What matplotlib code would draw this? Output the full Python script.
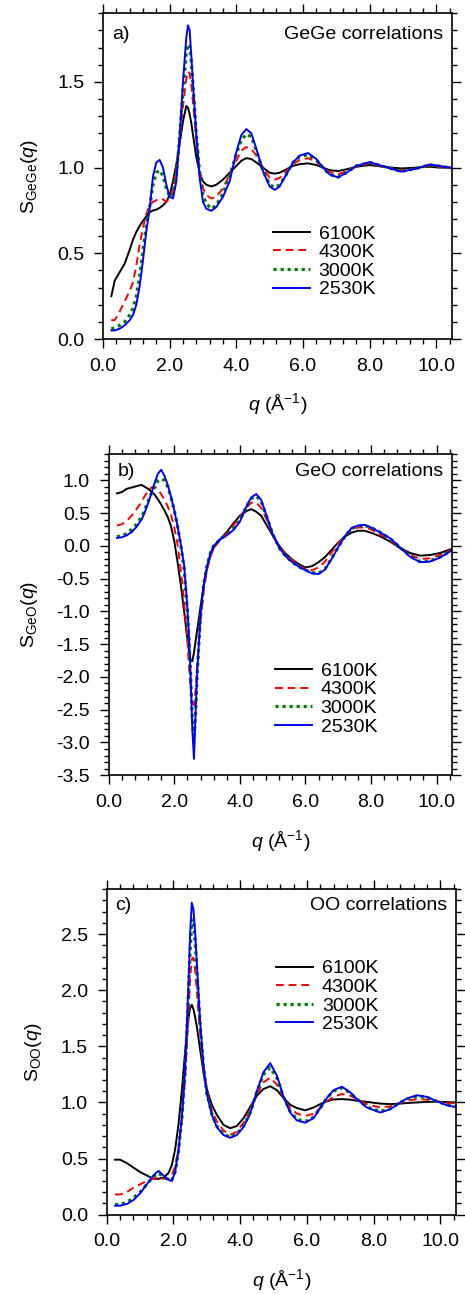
import matplotlib
matplotlib.use('Agg')
import matplotlib.pyplot as plt
from matplotlib.ticker import MultipleLocator, FormatStrFormatter

plt.rcParams['font.family'] = ['Liberation Sans', 'DejaVu Sans']
plt.rcParams['mathtext.fontset'] = 'custom'
plt.rcParams['mathtext.rm'] = 'Liberation Sans'
plt.rcParams['mathtext.it'] = 'Liberation Sans:italic'
plt.rcParams['axes.unicode_minus'] = False

temps = ['6100K', '4300K', '3000K', '2530K']

# panel a) GeGe
q_a = [0.25, 0.35, 0.5, 0.65, 0.8, 0.9, 1.0, 1.1, 1.2, 1.3, 1.4, 1.5, 1.6, 1.7, 1.8, 1.9,
       2.0, 2.1, 2.2, 2.3, 2.4, 2.5, 2.55, 2.6, 2.65, 2.7, 2.8, 2.9, 3.0, 3.1, 3.25, 3.4,
       3.6, 3.8, 4.0, 4.15, 4.3, 4.45, 4.6, 4.8, 5.0, 5.15, 5.3, 5.5, 5.7, 5.9, 6.15, 6.4,
       6.6, 6.8, 7.05, 7.3, 7.6, 8.0, 8.4, 8.95, 9.4, 9.8, 10.1, 10.45]
gege_6100 = [0.25, 0.34, 0.39, 0.44, 0.52, 0.58, 0.625, 0.66, 0.69, 0.715, 0.74, 0.75, 0.755, 0.765, 0.78, 0.80,
             0.84, 0.92, 1.02, 1.14, 1.27, 1.36, 1.35, 1.31, 1.26, 1.19, 1.06, 0.97, 0.92, 0.90, 0.89, 0.90,
             0.93, 0.97, 1.01, 1.04, 1.055, 1.05, 1.03, 1.0, 0.97, 0.965, 0.97, 0.99, 1.01, 1.02, 1.025, 1.015,
             1.0, 0.985, 0.98, 0.99, 1.005, 1.015, 1.005, 0.995, 1.0, 1.005, 1.0, 1.0]
gege_4300 = [0.11, 0.11, 0.16, 0.22, 0.28, 0.33, 0.43, 0.55, 0.65, 0.73, 0.78, 0.80, 0.81, 0.82, 0.815, 0.80,
             0.82, 0.87, 0.99, 1.17, 1.36, 1.52, 1.56, 1.55, 1.48, 1.38, 1.16, 0.98, 0.88, 0.84, 0.82, 0.83,
             0.88, 0.96, 1.04, 1.10, 1.12, 1.11, 1.07, 1.0, 0.94, 0.93, 0.94, 0.98, 1.02, 1.045, 1.055, 1.035,
             1.0, 0.975, 0.96, 0.98, 1.005, 1.025, 1.005, 0.985, 0.995, 1.012, 1.005, 0.998]
gege_3000 = [0.06, 0.065, 0.08, 0.10, 0.14, 0.18, 0.25, 0.37, 0.52, 0.66, 0.77, 0.90, 0.97, 0.985, 0.95, 0.88,
             0.83, 0.84, 0.96, 1.18, 1.45, 1.67, 1.72, 1.71, 1.62, 1.48, 1.19, 0.97, 0.84, 0.79, 0.76, 0.78,
             0.85, 0.95, 1.08, 1.16, 1.195, 1.18, 1.10, 0.98, 0.90, 0.885, 0.90, 0.96, 1.03, 1.065, 1.075, 1.045,
             1.0, 0.96, 0.945, 0.97, 1.01, 1.03, 1.008, 0.978, 0.995, 1.016, 1.008, 0.998]
gege_2530 = [0.05, 0.05, 0.06, 0.08, 0.11, 0.14, 0.20, 0.31, 0.46, 0.63, 0.76, 0.95, 1.03, 1.045, 1.0, 0.90,
             0.83, 0.82, 0.92, 1.18, 1.50, 1.76, 1.83, 1.80, 1.65, 1.49, 1.19, 0.94, 0.80, 0.76, 0.748, 0.77,
             0.83, 0.92, 1.09, 1.19, 1.225, 1.20, 1.11, 0.98, 0.89, 0.87, 0.89, 0.96, 1.03, 1.07, 1.085, 1.05,
             1.0, 0.96, 0.943, 0.97, 1.01, 1.032, 1.008, 0.976, 0.995, 1.018, 1.01, 0.998]

# panel b) GeO
q_b = [0.25, 0.4, 0.55, 0.7, 0.85, 1.0, 1.1, 1.2, 1.3, 1.4, 1.5, 1.6, 1.7, 1.8, 1.9, 2.0,
       2.1, 2.2, 2.3, 2.4, 2.45, 2.5, 2.55, 2.6, 2.65, 2.7, 2.8, 2.9, 3.0, 3.1, 3.2, 3.4,
       3.6, 3.8, 4.0, 4.2, 4.35, 4.5, 4.65, 4.8, 5.0, 5.2, 5.4, 5.6, 5.8, 6.0, 6.2, 6.4,
       6.6, 6.8, 7.0, 7.2, 7.4, 7.6, 7.8, 8.0, 8.3, 8.6, 8.9, 9.2, 9.5, 9.8, 10.1, 10.5]
geo_6100 = [0.80, 0.82, 0.87, 0.89, 0.91, 0.93, 0.90, 0.87, 0.83, 0.78, 0.71, 0.63, 0.54, 0.44, 0.30, 0.07,
            -0.25, -0.60, -1.00, -1.42, -1.62, -1.75, -1.76, -1.63, -1.45, -1.28, -0.93, -0.60, -0.34, -0.16, -0.03, 0.10,
            0.21, 0.34, 0.46, 0.53, 0.56, 0.52, 0.46, 0.33, 0.16, 0.0, -0.12, -0.21, -0.28, -0.33, -0.31, -0.25,
            -0.17, -0.06, 0.05, 0.14, 0.20, 0.23, 0.23, 0.20, 0.14, 0.06, -0.04, -0.11, -0.15, -0.14, -0.11, -0.04]
geo_4300 = [0.31, 0.33, 0.38, 0.46, 0.56, 0.67, 0.76, 0.84, 0.89, 0.90, 0.86, 0.79, 0.70, 0.60, 0.47, 0.28,
            0.02, -0.38, -0.85, -1.45, -1.85, -2.20, -2.40, -2.43, -2.20, -1.80, -1.15, -0.68, -0.36, -0.16, -0.03, 0.09,
            0.19, 0.31, 0.44, 0.58, 0.66, 0.66, 0.58, 0.42, 0.17, -0.01, -0.13, -0.22, -0.30, -0.35, -0.37, -0.33,
            -0.24, -0.10, 0.04, 0.15, 0.24, 0.28, 0.28, 0.25, 0.17, 0.08, -0.04, -0.14, -0.20, -0.19, -0.14, -0.05]
geo_3000 = [0.14, 0.15, 0.19, 0.25, 0.33, 0.44, 0.55, 0.68, 0.80, 0.91, 0.99, 1.02, 1.0, 0.90, 0.74, 0.54,
            0.30, 0.0, -0.35, -1.00, -1.45, -2.00, -2.65, -2.95, -2.55, -1.95, -1.05, -0.58, -0.30, -0.11, 0.0, 0.10,
            0.17, 0.26, 0.39, 0.60, 0.72, 0.76, 0.68, 0.47, 0.18, -0.03, -0.16, -0.25, -0.32, -0.37, -0.41, -0.42,
            -0.35, -0.19, -0.02, 0.14, 0.26, 0.30, 0.31, 0.28, 0.20, 0.10, -0.03, -0.16, -0.24, -0.23, -0.17, -0.06]
geo_2530 = [0.12, 0.13, 0.16, 0.21, 0.29, 0.40, 0.51, 0.65, 0.80, 0.96, 1.10, 1.16, 1.07, 0.93, 0.75, 0.54,
            0.30, 0.02, -0.30, -0.95, -1.40, -2.00, -2.80, -3.25, -2.55, -1.92, -1.05, -0.58, -0.31, -0.12, 0.0, 0.10,
            0.16, 0.24, 0.37, 0.60, 0.74, 0.79, 0.70, 0.48, 0.18, -0.03, -0.16, -0.25, -0.32, -0.37, -0.42, -0.43,
            -0.36, -0.20, -0.02, 0.14, 0.27, 0.31, 0.32, 0.28, 0.20, 0.11, -0.03, -0.17, -0.25, -0.24, -0.18, -0.06]

# panel c) OO
q_c = [0.25, 0.4, 0.6, 0.8, 1.0, 1.2, 1.4, 1.55, 1.7, 1.85, 1.95, 2.05, 2.15, 2.25, 2.35, 2.45,
       2.5, 2.55, 2.6, 2.65, 2.7, 2.8, 2.9, 3.0, 3.15, 3.3, 3.5, 3.7, 3.9, 4.1, 4.3, 4.5,
       4.7, 4.9, 5.1, 5.3, 5.5, 5.7, 5.95, 6.2, 6.4, 6.6, 6.8, 7.05, 7.3, 7.5, 7.8, 8.2,
       8.5, 8.8, 9.0, 9.3, 9.6, 9.9, 10.2, 10.5]
oo_6100 = [0.49, 0.49, 0.46, 0.42, 0.38, 0.35, 0.32, 0.32, 0.33, 0.37, 0.44, 0.58, 0.80, 1.10, 1.45, 1.75,
           1.84, 1.87, 1.83, 1.76, 1.68, 1.47, 1.27, 1.12, 0.98, 0.89, 0.80, 0.77, 0.79, 0.86, 0.96, 1.06,
           1.12, 1.145, 1.11, 1.04, 0.98, 0.95, 0.93, 0.955, 0.985, 1.01, 1.027, 1.03, 1.025, 1.015, 1.005, 0.99,
           0.985, 0.99, 0.995, 1.0, 1.005, 1.007, 1.003, 1.0]
oo_4300 = [0.18, 0.18, 0.20, 0.24, 0.27, 0.30, 0.32, 0.33, 0.32, 0.32, 0.35, 0.43, 0.58, 0.85, 1.22, 1.78,
           2.10, 2.28, 2.29, 2.18, 2.00, 1.62, 1.30, 1.10, 0.93, 0.83, 0.75, 0.71, 0.74, 0.82, 0.94, 1.07,
           1.18, 1.22, 1.16, 1.04, 0.95, 0.90, 0.88, 0.90, 0.95, 1.01, 1.05, 1.075, 1.06, 1.03, 0.985, 0.955,
           0.965, 0.995, 1.015, 1.03, 1.025, 1.01, 0.995, 0.99]
oo_3000 = [0.09, 0.09, 0.11, 0.15, 0.20, 0.27, 0.34, 0.37, 0.34, 0.31, 0.31, 0.38, 0.56, 0.85, 1.28, 1.95,
           2.35, 2.62, 2.63, 2.43, 2.18, 1.70, 1.32, 1.08, 0.90, 0.79, 0.72, 0.69, 0.72, 0.79, 0.91, 1.09,
           1.25, 1.31, 1.22, 1.05, 0.92, 0.85, 0.83, 0.87, 0.95, 1.04, 1.10, 1.13, 1.085, 1.03, 0.96, 0.92,
           0.945, 1.0, 1.03, 1.055, 1.045, 1.01, 0.98, 0.96]
oo_2530 = [0.08, 0.08, 0.095, 0.13, 0.19, 0.27, 0.35, 0.39, 0.35, 0.31, 0.30, 0.38, 0.57, 0.86, 1.30, 2.05,
           2.50, 2.78, 2.72, 2.52, 2.25, 1.72, 1.33, 1.08, 0.89, 0.78, 0.71, 0.685, 0.71, 0.78, 0.90, 1.10,
           1.27, 1.35, 1.24, 1.05, 0.91, 0.84, 0.82, 0.86, 0.95, 1.04, 1.11, 1.14, 1.09, 1.03, 0.955, 0.91,
           0.94, 1.00, 1.035, 1.064, 1.05, 1.01, 0.975, 0.955]

colors = ['black', '#ff0000', '#008000', '#0000ff']
styles = ['-', (0, (4, 2.5)), (0, (1, 1.2)), '-']
widths = [1.4, 1.4, 2.3, 1.4]

FS = 14


def draw_panel(ax, q, curves, ylim, sub, tag, title, leg_xy, tag_y):
    for s, lab, c, ls, lw in zip(curves, temps, colors, styles, widths):
        ax.plot(q, s, color=c, linestyle=ls, linewidth=lw, label=lab)
    ax.set_xlim(0, 10.47)
    ax.set_ylim(*ylim)
    ax.xaxis.set_major_locator(MultipleLocator(2.0))
    ax.xaxis.set_minor_locator(MultipleLocator(0.4))
    ax.yaxis.set_major_locator(MultipleLocator(0.5))
    ax.yaxis.set_minor_locator(MultipleLocator(0.1))
    ax.xaxis.set_major_formatter(FormatStrFormatter('%.1f'))
    ax.yaxis.set_major_formatter(FormatStrFormatter('%.1f'))
    ax.tick_params(which='both', direction='out', top=True, right=True,
                   labelsize=FS, width=1.0, pad=7)
    ax.tick_params(which='major', length=6.5)
    ax.tick_params(which='minor', length=3.5)
    for sp in ax.spines.values():
        sp.set_linewidth(1.2)
    ax.set_xlabel(r'$q$ (Å$^{-1}$)', fontsize=FS, labelpad=12)
    ax.set_ylabel(r'$\mathrm{S}_{\mathrm{%s}}(q)$' % sub, fontsize=FS, labelpad=12)
    ax.text(0.025, tag_y, tag, transform=ax.transAxes, ha='left', va='center', fontsize=FS)
    ax.text(0.975, tag_y, title, transform=ax.transAxes, ha='right', va='center', fontsize=FS)
    ax.legend(loc='upper left', bbox_to_anchor=leg_xy, frameon=False, fontsize=FS,
              handlelength=1.9, handletextpad=0.45, labelspacing=0.05,
              borderpad=0, borderaxespad=0)


fig = plt.figure(figsize=(4.65, 12.94), dpi=100)
ax_a = fig.add_axes([0.2215, 0.738, 0.7505, 0.2517])
ax_b = fig.add_axes([0.2338, 0.4009, 0.7382, 0.2482])
ax_c = fig.add_axes([0.2295, 0.0613, 0.7511, 0.2515])

draw_panel(ax_a, q_a, [gege_6100, gege_4300, gege_3000, gege_2530], (0, 1.9),
           'GeGe', 'a)', 'GeGe correlations', (0.487, 0.35), 0.935)
draw_panel(ax_b, q_b, [geo_6100, geo_4300, geo_3000, geo_2530], (-3.5, 1.4),
           'GeO', 'b)', 'GeO correlations', (0.484, 0.352), 0.945)
draw_panel(ax_c, q_c, [oo_6100, oo_4300, oo_3000, oo_2530], (0, 2.9),
           'OO', 'c)', 'OO correlations', (0.485, 0.783), 0.95)

fig.savefig('out.png', dpi=100)
plt.close(fig)
